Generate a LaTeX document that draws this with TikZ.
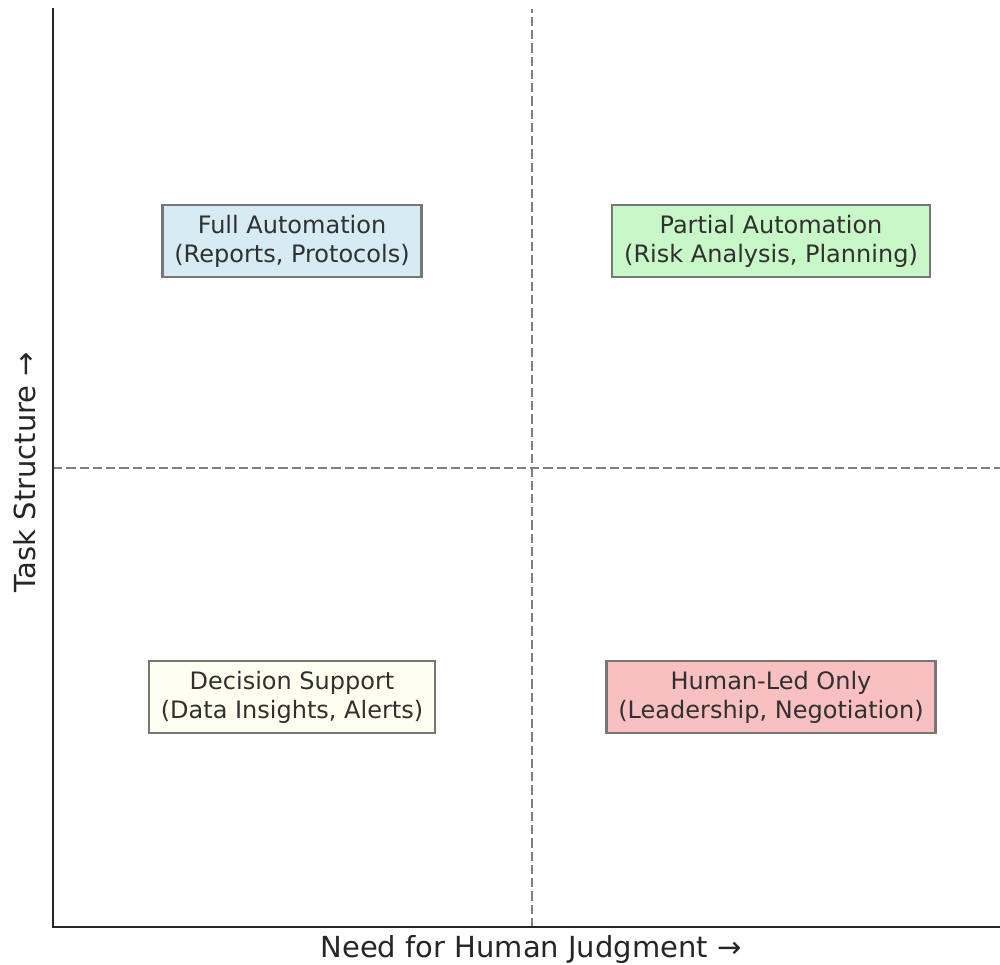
\documentclass[tikz,border=0pt]{standalone}
\usepackage{fontspec}
\setmainfont{DejaVu Sans}
\definecolor{ink}{HTML}{262626}
\definecolor{boxink}{HTML}{303030}
\definecolor{boxedge}{HTML}{777777}
\definecolor{divgray}{HTML}{808080}
\definecolor{fillblue}{HTML}{D6EBF3}
\definecolor{fillgreen}{HTML}{C8F7C8}
\definecolor{fillyellow}{HTML}{FFFFEF}
\definecolor{fillred}{HTML}{F8C0C0}
\begin{document}
\begin{tikzpicture}[x=1pt,y=-1pt,
  quad/.style={draw=boxedge, line width=2.5pt, align=center, text=boxink,
    font=\fontsize{24}{28.8}\selectfont, inner xsep=12pt, inner ysep=0pt,
    minimum height=72pt},
  divider/.style={draw=divgray, line width=2.5pt, dash pattern=on 9.25pt off 4pt},
  spine/.style={draw=ink, line width=2.7pt, line cap=rect},
  axislabel/.style={text=ink, font=\fontsize{29}{34}\selectfont}]
  \useasboundingbox (0,0) rectangle (1000,964);
  \fill[white] (0,0) rectangle (1000,964);
  \clip (0,0) rectangle (1000,964);

  % axes frame corners and quadrant dividers
  \coordinate (origin) at (53,927);
  \coordinate (ytop) at (53,9);
  \coordinate (xend) at (1012,927);
  \coordinate (vbot) at (532,927);
  \coordinate (vtop) at (532,9);
  \coordinate (hleft) at (53,468);
  \coordinate (hright) at (1012,468);

  \draw[divider] (vbot) -- (vtop);
  \draw[divider] (hleft) -- (hright);

  % quadrant boxes
  \node[quad, fill=fillblue] (full) at (292,241) {Full Automation\\(Reports, Protocols)};
  \node[quad, fill=fillgreen] (partial) at (771,241) {Partial Automation\\(Risk Analysis, Planning)};
  \node[quad, fill=fillyellow] (support) at (292,697) {Decision Support\\(Data Insights, Alerts)};
  \node[quad, fill=fillred] (human) at (771,697) {Human-Led Only\\(Leadership, Negotiation)};

  % spines
  \draw[spine] (ytop) -- (origin) -- (xend);

  % axis labels
  \node[axislabel] (xlabel) at (531,949) {Need for Human Judgment →};
  \node[axislabel, rotate=90] (ylabel) at (25,472) {Task Structure →};
\end{tikzpicture}
\end{document}
